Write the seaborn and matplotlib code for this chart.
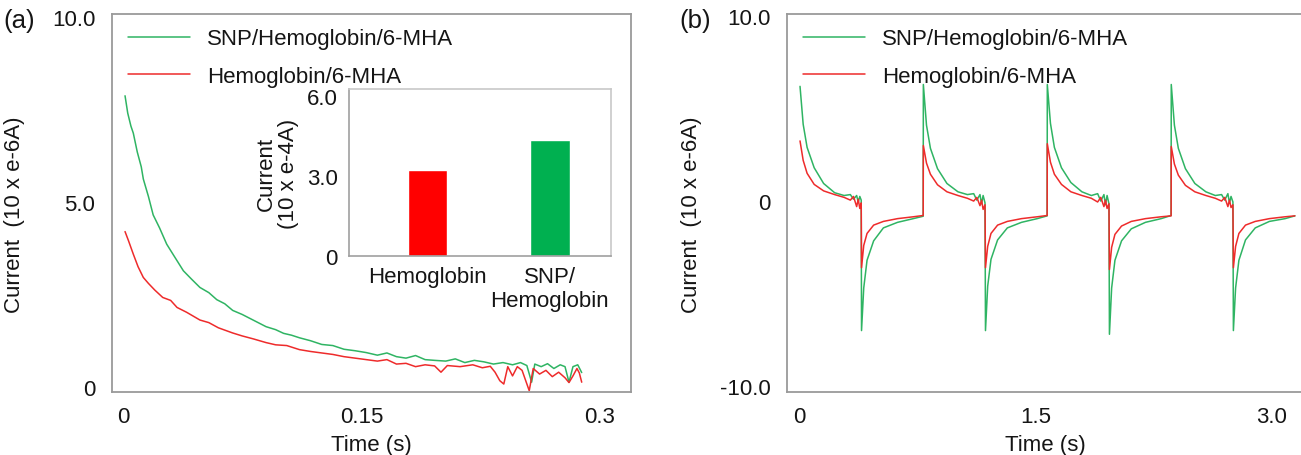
import matplotlib
matplotlib.use("Agg")
import matplotlib.pyplot as plt
import pandas as pd
import seaborn as sns

# ---------------- data ----------------
series_labels = ["SNP/Hemoglobin/6-MHA", "Hemoglobin/6-MHA"]

# panel (a): single potential step transient
t_a_green = [0.0013, 0.003, 0.005, 0.0065, 0.009, 0.0115, 0.0128, 0.016, 0.019, 0.023,
             0.0275, 0.032, 0.038, 0.043, 0.0484, 0.054, 0.059, 0.064, 0.069, 0.075,
             0.080, 0.085, 0.090, 0.096, 0.101, 0.106, 0.111, 0.118, 0.125, 0.132,
             0.139, 0.146, 0.153, 0.160, 0.166, 0.172, 0.178, 0.184, 0.190, 0.196,
             0.203, 0.209, 0.215, 0.221, 0.227, 0.233, 0.239, 0.245, 0.250, 0.254,
             0.257, 0.259, 0.263, 0.267, 0.271, 0.275, 0.278, 0.2805, 0.283, 0.286, 0.2885]
i_a_green = [7.87, 7.40, 7.05, 6.86, 6.35, 5.95, 5.62, 5.15, 4.65, 4.30,
             3.86, 3.55, 3.14, 2.92, 2.69, 2.55, 2.36, 2.25, 2.07, 1.96,
             1.85, 1.74, 1.63, 1.55, 1.45, 1.40, 1.33, 1.25, 1.15, 1.12,
             1.02, 0.98, 0.93, 0.86, 0.92, 0.82, 0.78, 0.85, 0.74, 0.72,
             0.70, 0.76, 0.66, 0.72, 0.68, 0.62, 0.66, 0.60, 0.66, 0.58,
             0.13, 0.62, 0.55, 0.63, 0.50, 0.60, 0.55, 0.13, 0.55, 0.60, 0.39]

t_a_red = [0.0013, 0.0035, 0.0065, 0.0095, 0.0128, 0.016, 0.020, 0.025, 0.030, 0.034,
           0.040, 0.0484, 0.054, 0.060, 0.069, 0.075, 0.082, 0.090, 0.096, 0.103,
           0.111, 0.118, 0.125, 0.132, 0.139, 0.146, 0.153, 0.160, 0.166, 0.172,
           0.178, 0.184, 0.190, 0.196, 0.200, 0.204, 0.212, 0.220, 0.226, 0.231,
           0.234, 0.237, 0.2395, 0.242, 0.245, 0.248, 0.251, 0.2555, 0.258, 0.262,
           0.266, 0.270, 0.274, 0.278, 0.2805, 0.283, 0.2855, 0.287, 0.2885]
i_a_red = [4.20, 3.95, 3.59, 3.25, 2.96, 2.80, 2.62, 2.42, 2.34, 2.15,
           2.02, 1.81, 1.74, 1.60, 1.46, 1.38, 1.30, 1.20, 1.14, 1.12,
           1.01, 0.96, 0.92, 0.88, 0.82, 0.78, 0.74, 0.70, 0.74, 0.62,
           0.64, 0.55, 0.60, 0.57, 0.40, 0.58, 0.55, 0.60, 0.52, 0.56,
           0.40, 0.17, 0.08, 0.55, 0.30, 0.55, 0.45, -0.10, 0.50, 0.35,
           0.45, 0.28, 0.40, 0.25, 0.12, 0.30, 0.50, 0.38, 0.13]

# inset bar chart
bar_categories = ["Hemoglobin", "SNP/\nHemoglobin"]
bar_values = [3.2, 4.35]

# panel (b): repeated square-wave steps
t_b = [0.004, 0.024, 0.049, 0.094, 0.154, 0.224, 0.284, 0.324, 0.344, 0.364, 0.374, 0.384, 0.393,
       0.395, 0.409, 0.430, 0.472, 0.534, 0.624, 0.724, 0.787,
       0.788, 0.808, 0.833, 0.878, 0.938, 1.008, 1.068, 1.108, 1.128, 1.148, 1.158, 1.168, 1.180,
       1.183, 1.197, 1.218, 1.260, 1.322, 1.412, 1.512, 1.575,
       1.576, 1.596, 1.621, 1.666, 1.726, 1.796, 1.856, 1.896, 1.916, 1.936, 1.946, 1.956, 1.968,
       1.971, 1.985, 2.006, 2.048, 2.110, 2.200, 2.300, 2.363,
       2.364, 2.384, 2.409, 2.454, 2.514, 2.584, 2.644, 2.684, 2.704, 2.724, 2.734, 2.744, 2.756,
       2.759, 2.773, 2.794, 2.836, 2.898, 2.988, 3.088, 3.150]
i_b_green = [6.20, 4.15, 2.90, 1.80, 0.95, 0.45, 0.30, 0.35, 0.10, 0.30, -0.05, 0.25, 0.05,
             -7.00, -4.70, -3.20, -2.15, -1.45, -1.15, -0.95, -0.82,
             6.30, 4.10, 2.85, 1.75, 0.95, 0.50, 0.35, 0.40, 0.05, 0.35, -0.15, 0.30, -0.10,
             -7.00, -4.60, -3.15, -2.10, -1.45, -1.15, -0.95, -0.80,
             6.30, 4.20, 2.90, 1.80, 1.00, 0.50, 0.30, 0.40, 0.00, 0.35, -0.20, 0.30, -0.15,
             -7.20, -4.70, -3.20, -2.15, -1.50, -1.15, -0.95, -0.78,
             6.30, 4.10, 2.85, 1.75, 0.95, 0.50, 0.30, 0.35, 0.05, 0.40, -0.10, 0.25, -0.05,
             -7.00, -4.70, -3.20, -2.10, -1.45, -1.10, -0.95, -0.80]
i_b_red = [3.25, 2.20, 1.50, 0.90, 0.55, 0.35, 0.20, 0.05, 0.25, -0.30, 0.10, -0.40, -0.10,
           -3.60, -2.40, -1.75, -1.30, -1.10, -0.95, -0.85, -0.78,
           3.00, 2.05, 1.45, 0.88, 0.50, 0.30, 0.15, 0.00, 0.20, -0.25, 0.05, -0.45, -0.20,
           -3.60, -2.45, -1.75, -1.30, -1.10, -0.95, -0.85, -0.78,
           3.10, 2.10, 1.45, 0.90, 0.50, 0.30, 0.15, -0.05, 0.20, -0.30, 0.05, -0.40, -0.15,
           -3.70, -2.50, -1.80, -1.35, -1.10, -0.95, -0.85, -0.80,
           2.95, 2.00, 1.40, 0.85, 0.50, 0.30, 0.15, 0.00, 0.20, -0.30, 0.05, -0.35, -0.20,
           -3.60, -2.45, -1.75, -1.30, -1.10, -0.95, -0.85, -0.80]

xticks_a = [0, 0.15, 0.3]
xticklabels_a = ["0", "0.15", "0.3"]
yticks_a = [0, 5, 10]
yticklabels_a = ["0", "5.0", "10.0"]
xticks_b = [0, 1.5, 3.0]
xticklabels_b = ["0", "1.5", "3.0"]
yticks_b = [-10, 0, 10]
yticklabels_b = ["-10.0", "0", "10.0"]
yticks_in = [0, 3, 6]
yticklabels_in = ["0", "3.0", "6.0"]

# ---------------- style ----------------
sns.set_theme(style="white")
plt.rcParams['font.family'] = ['Liberation Sans', 'DejaVu Sans']
plt.rcParams['axes.unicode_minus'] = False

GREEN = "#2fb463"
RED = "#ee2b2b"
BAR_RED = "#ff0000"
BAR_GREEN = "#00b050"
TXT = "#151515"
SPINE = "#9a9a9a"
FS = 16

W, H = 1301, 456
fig = plt.figure(figsize=(W / 100, H / 100), dpi=100)
fig.patch.set_facecolor("white")


def box(l, t, r, b):
    return [l / W, 1 - b / H, (r - l) / W, (b - t) / H]


def style_axes(ax):
    for s in ax.spines.values():
        s.set_color(SPINE)
        s.set_linewidth(1.3)
        s.set_visible(True)
    ax.tick_params(length=0, labelsize=FS, colors=TXT)
    ax.tick_params(axis="x", pad=10)
    ax.tick_params(axis="y", pad=12)


# ---------------- panel (a) ----------------
ax_a = fig.add_axes(box(112, 15, 631, 393))
df_ag = pd.DataFrame({"t": t_a_green, "i": i_a_green})
df_ar = pd.DataFrame({"t": t_a_red, "i": i_a_red})
sns.lineplot(data=df_ag, x="t", y="i", ax=ax_a, color=GREEN, lw=1.1,
             label=series_labels[0], sort=False, estimator=None)
sns.lineplot(data=df_ar, x="t", y="i", ax=ax_a, color=RED, lw=1.1,
             label=series_labels[1], sort=False, estimator=None)
ax_a.set_xlim(-0.0069, 0.3195)
ax_a.set_ylim(-0.135, 10.08)
ax_a.set_xticks(xticks_a, xticklabels_a)
ax_a.set_yticks(yticks_a, yticklabels_a)
style_axes(ax_a)
ax_a.set_xlabel("Time (s)", fontsize=FS, color=TXT)
ax_a.set_ylabel("Current  (10 x e-6A)", fontsize=FS, color=TXT)
ax_a.xaxis.set_label_coords(0.5, -0.11)
ax_a.yaxis.set_label_coords(-0.168, 0.471)
ax_a.legend(loc="upper left", bbox_to_anchor=(0.031, 0.962), frameon=False,
            borderpad=0, borderaxespad=0, handlelength=2.8, handletextpad=0.75,
            labelspacing=0.75, fontsize=FS, labelcolor=TXT)

# inset
ax_in = fig.add_axes(box(349, 90, 611, 257))
sns.barplot(x=bar_categories, y=bar_values, hue=bar_categories,
            palette=[BAR_RED, BAR_GREEN], legend=False, width=0.32,
            saturation=1, ax=ax_in)
ax_in.set_xlim(-0.642, 1.499)
ax_in.set_ylim(0, 6.25)
ax_in.set_yticks(yticks_in, yticklabels_in)
for s in ax_in.spines.values():
    s.set_visible(True)
    s.set_linewidth(1.2)
ax_in.spines["left"].set_color("#a0a0a0")
ax_in.spines["bottom"].set_color("#a0a0a0")
ax_in.spines["top"].set_color("#c8c8c8")
ax_in.spines["right"].set_color("#c8c8c8")
ax_in.tick_params(length=0, labelsize=FS, colors=TXT)
ax_in.tick_params(axis="x", pad=7)
ax_in.tick_params(axis="y", pad=8)
ax_in.set_xlabel("")
ax_in.set_ylabel("Current\n(10 x e-4A)", fontsize=FS, color=TXT, linespacing=1.1)
ax_in.yaxis.set_label_coords(-0.19, 0.5)

# ---------------- panel (b) ----------------
ax_b = fig.add_axes(box(787, 15, 1303, 393))
df_b = pd.DataFrame({"t": t_b, "g": i_b_green, "r": i_b_red})
sns.lineplot(data=df_b, x="t", y="g", ax=ax_b, color=GREEN, lw=1.1,
             label=series_labels[0], sort=False, estimator=None)
sns.lineplot(data=df_b, x="t", y="r", ax=ax_b, color=RED, lw=1.1,
             label=series_labels[1], sort=False, estimator=None)
ax_b.set_xlim(-0.0788, 3.2015)
ax_b.set_ylim(-10.32, 10.11)
ax_b.set_xticks(xticks_b, xticklabels_b)
ax_b.set_yticks(yticks_b, yticklabels_b)
style_axes(ax_b)
ax_b.set_xlabel("Time (s)", fontsize=FS, color=TXT)
ax_b.set_ylabel("Current  (10 x e-6A)", fontsize=FS, color=TXT)
ax_b.xaxis.set_label_coords(0.5, -0.11)
ax_b.yaxis.set_label_coords(-0.164, 0.471)
ax_b.legend(loc="upper left", bbox_to_anchor=(0.031, 0.962), frameon=False,
            borderpad=0, borderaxespad=0, handlelength=2.8, handletextpad=0.75,
            labelspacing=0.75, fontsize=FS, labelcolor=TXT)

# panel letters
fig.text(19 / W, 1 - 21 / H, "(a)", ha="center", va="center", fontsize=18.5, color=TXT)
fig.text(695 / W, 1 - 21 / H, "(b)", ha="center", va="center", fontsize=18.5, color=TXT)

fig.savefig("out.png", dpi=100, facecolor="white")
